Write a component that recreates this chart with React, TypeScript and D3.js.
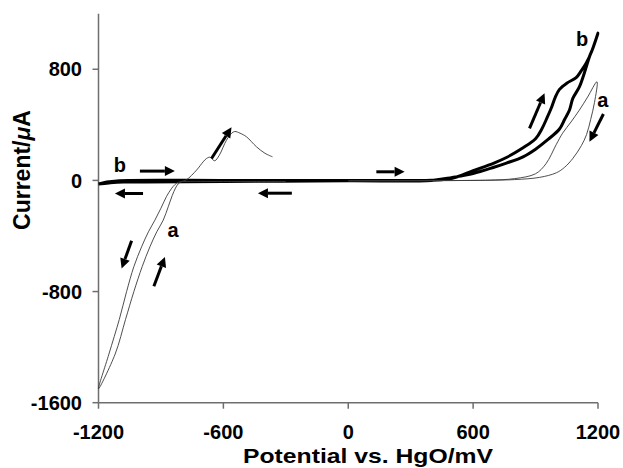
import React from "react";
import * as d3 from "d3";

// potential (mV), current (uA)
const xTicks = [-1200, -600, 0, 600, 1200];
const yTicks = [-1600, -800, 0, 800];

// curve a, cathodic part: down the left branch, back up the right one, then the oxidation peak
const curveANeg: [number, number][] = [
  [-300, -8], [-600, -8], [-790, -8], [-815, -12], [-833, -30], [-850, -60], [-873, -115],
  [-900, -200], [-929, -286], [-960, -370], [-993, -478], [-1030, -620], [-1065, -800],
  [-1100, -1000], [-1150, -1250], [-1200, -1500],
  [-1120, -1250], [-1070, -1000], [-1030, -800], [-990, -620], [-953, -478], [-920, -370],
  [-889, -286], [-865, -190], [-846, -110], [-830, -55], [-817, -25], [-800, -8],
  [-777, 5], [-729, 74], [-697, 134], [-681, 158], [-665, 167],
  [-650, 148], [-641, 141], [-620, 180], [-585, 290], [-560, 340], [-545, 352], [-520, 340],
  [-489, 314], [-441, 242], [-400, 195], [-364, 170],
];

// curve a, anodic loop
const curveAPos: [number, number][] = [
  [0, -3], [600, 0], [680, 2], [800, 13], [900, 48], [950, 120], [1000, 260], [1030, 340],
  [1070, 420], [1110, 505], [1150, 600], [1195, 710],
  [1183, 560], [1165, 440], [1145, 330], [1120, 250], [1080, 160], [1040, 95], [1000, 55],
  [920, 22], [800, 6], [600, 0], [0, -3],
];

// curve b, full cycle
const curveB: [number, number][] = [
  [-1200, -25], [-1150, -10], [-1100, -2], [-600, 0], [0, 0], [400, 2], [500, 15], [600, 70],
  [700, 125], [760, 165], [840, 235], [900, 300], [930, 370], [955, 450], [975, 519],
  [995, 600], [1015, 655], [1050, 700], [1095, 740], [1120, 790], [1143, 843], [1170, 930],
  [1200, 1060],
  [1175, 950], [1159, 891], [1140, 800], [1111, 675], [1079, 590], [1063, 507], [1040, 440],
  [1015, 370], [960, 295], [900, 225], [840, 170], [760, 125], [700, 95], [600, 50],
  [500, 22], [400, 0], [0, -3], [-600, -8], [-1080, -12], [-1150, -18], [-1200, -25],
];

// scan direction arrows [x1, y1, x2, y2]
const arrows: [number, number, number, number][] = [
  [-1001, 67, -833, 67],
  [-986, -94, -1121, -94],
  [-271, -92, -434, -92],
  [-657, 158, -561, 382],
  [135, 62, 271, 62],
  [871, 375, 943, 627],
  [1226, 478, 1159, 278],
  [-1041, -435, -1089, -634],
  [-934, -762, -881, -551],
];

const labels: [string, number, number][] = [
  ["b", -1097, 110],
  ["a", -842, -358],
  ["b", 1124, 1018],
  ["a", 1223, 578],
];

const W = 623;
const H = 468;
const font = "Arial, 'Liberation Sans', sans-serif";
const axisColor = "#6e6e6e";

export default function App() {
  const x = d3.scaleLinear().domain([-1200, 1200]).range([98.5, 598]);
  const y = d3.scaleLinear().domain([-1600, 1200]).range([402.7, 13.7]);

  const line = d3.line<[number, number]>()
    .x(d => x(d[0]))
    .y(d => y(d[1]))
    .curve(d3.curveCatmullRom.alpha(0.5));

  const arrowShapes = arrows.map((a, i) => {
    const x1 = x(a[0]), y1 = y(a[1]), x2 = x(a[2]), y2 = y(a[3]);
    const ang = Math.atan2(y2 - y1, x2 - x1);
    const hl = 10, hw = 5;
    const bx = x2 - hl * Math.cos(ang), by = y2 - hl * Math.sin(ang);
    const px = -Math.sin(ang) * hw, py = Math.cos(ang) * hw;
    return (
      <g key={i}>
        <line x1={x1} y1={y1} x2={bx} y2={by} stroke="#000" strokeWidth={3} />
        <polygon points={`${x2},${y2} ${bx + px},${by + py} ${bx - px},${by - py}`} fill="#000" />
      </g>
    );
  });

  return (
    <svg width={W} height={H} style={{ position: "absolute", left: 0, top: 0, background: "#fff" }}>
      {/* axes */}
      <line x1={x(-1200)} y1={y(1200)} x2={x(-1200)} y2={y(-1600)} stroke={axisColor} strokeWidth={1.5} />
      <line x1={x(-1200)} y1={y(-1600)} x2={x(1200)} y2={y(-1600)} stroke={axisColor} strokeWidth={1.5} />
      {yTicks.map(t => (
        <g key={"y" + t}>
          <line x1={x(-1200) - 6} x2={x(-1200)} y1={y(t)} y2={y(t)} stroke={axisColor} strokeWidth={1.5} />
          <text x={82} y={y(t)} dy="0.36em" textAnchor="end" fontFamily={font} fontWeight="bold" fontSize={20}>
            {t}
          </text>
        </g>
      ))}
      {xTicks.map(t => (
        <g key={"x" + t}>
          <line x1={x(t)} x2={x(t)} y1={y(-1600)} y2={y(-1600) + 6} stroke={axisColor} strokeWidth={1.5} />
          <text x={x(t)} y={439} textAnchor="middle" fontFamily={font} fontWeight="bold" fontSize={20}>
            {t}
          </text>
        </g>
      ))}
      <text x={368} y={463} textAnchor="middle" fontFamily={font} fontWeight="bold" fontSize={21}
        textLength={250} lengthAdjust="spacingAndGlyphs">
        Potential vs. HgO/mV
      </text>
      <text transform="translate(30,170) rotate(-90)" textAnchor="middle" fontFamily={font} fontWeight="bold" fontSize={23}>
        Current/<tspan fontStyle="italic">μ</tspan>A
      </text>

      {/* curves */}
      <path d={line(curveB) || ""} fill="none" stroke="#000" strokeWidth={3} strokeLinejoin="round" />
      <path d={line(curveANeg) || ""} fill="none" stroke="#3a3a3a" strokeWidth={0.9} />
      <path d={line(curveAPos) || ""} fill="none" stroke="#3a3a3a" strokeWidth={0.9} />

      {arrowShapes}
      {labels.map((l, i) => (
        <text key={i} x={x(l[1])} y={y(l[2])} dy="0.35em" textAnchor="middle" fontFamily={font} fontWeight="bold" fontSize={20}>
          {l[0]}
        </text>
      ))}
    </svg>
  );
}
